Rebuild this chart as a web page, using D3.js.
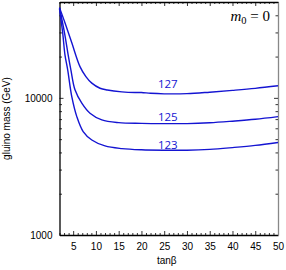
<!DOCTYPE html>
<html>
<head>
<meta charset="utf-8">
<script src="https://cdn.jsdelivr.net/npm/d3@7"></script>
<style>
  body { margin: 0; background: #fff; }
  .tick text { font-family: "Liberation Sans", Arial, sans-serif; font-size: 10px; fill: #000; }
</style>
</head>
<body>
<div id="chart"></div>
<script>
// curves: gluino mass vs tan(beta) for m_h = 127, 125, 123 GeV
var tanb127 = [2, 3.2, 4.7, 6.5, 7.8, 9.1, 10.9, 12.5, 15.7, 18.6, 20, 22, 25, 30, 35, 40, 45, 50];
var mass127 = [45500, 35300, 25200, 16900, 14300, 12800, 11750, 11400, 11050, 10930, 10950, 10800, 10700, 10730, 11000, 11340, 11730, 12240];

var tanb125 = [2, 3.1, 3.9, 4.5, 5.4, 6.9, 8.7, 11.3, 15, 20, 25, 30, 35, 40, 45, 50];
var mass125 = [45400, 29800, 20600, 16000, 11450, 9150, 7730, 6910, 6600, 6520, 6490, 6490, 6580, 6760, 6980, 7300];

var tanb123 = [2, 2.7, 3.2, 3.8, 4.7, 5.8, 7.2, 9.1, 12, 15.7, 20, 25, 30, 35, 40, 45, 50];
var mass123 = [44600, 29800, 20600, 16000, 10200, 7300, 5680, 4930, 4460, 4265, 4180, 4150, 4150, 4210, 4340, 4500, 4730];

var curveLabels = ["127", "125", "123"];
var labelTanb = [25.8, 25.8, 25.8];
var labelMass = [11830, 6830, 4245];

var xTicks = [5, 10, 15, 20, 25, 30, 35, 40, 45, 50];
var yTicks = [1000, 10000];

var W = 286, H = 270;
var pLeft = 59.5, pRight = 278, pTop = 2, pBottom = 235;
var blue = "#1414d2";

var svg = d3.select("#chart").append("svg")
    .attr("width", W)
    .attr("height", H);

var x = d3.scaleLinear().domain([2, 50]).range([pLeft, pRight]);
var y = d3.scaleLog().domain([1000, 50000]).range([pBottom, pTop]);

var xMinor = d3.range(2, 51).filter(function(d) { return d % 5 != 0; });
var yMinor = [];
[1000, 10000].forEach(function(b) {
  for (var k = 2; k <= 9; k++) if (b * k <= 50000) yMinor.push(b * k);
});

function styleAxis(g, col) {
  g.select(".domain").attr("stroke", col).attr("stroke-width", 1.3);
  g.selectAll(".tick line").attr("stroke", "#000").attr("stroke-width", 0.8);
}
function minorStyle(g) {
  g.select(".domain").remove();
  g.selectAll(".tick line").attr("stroke", "#000").attr("stroke-width", 0.8);
}

// bottom axis
svg.append("g")
    .attr("transform", "translate(0," + pBottom + ")")
    .call(d3.axisBottom(x).tickValues(xTicks).tickSizeInner(-4).tickSizeOuter(0).tickPadding(8))
    .call(styleAxis, "#000");
svg.append("g")
    .attr("transform", "translate(0," + pBottom + ")")
    .call(d3.axisBottom(x).tickValues(xMinor).tickSizeInner(-2).tickSizeOuter(0).tickFormat(""))
    .call(minorStyle);

// top axis
svg.append("g")
    .attr("transform", "translate(0," + pTop + ")")
    .call(d3.axisTop(x).tickValues(xTicks).tickSizeInner(-4).tickSizeOuter(0).tickFormat(""))
    .call(styleAxis, "#000");
svg.append("g")
    .attr("transform", "translate(0," + pTop + ")")
    .call(d3.axisTop(x).tickValues(xMinor).tickSizeInner(-2).tickSizeOuter(0).tickFormat(""))
    .call(minorStyle);

// left axis
svg.append("g")
    .attr("transform", "translate(" + pLeft + ",0)")
    .call(d3.axisLeft(y).tickValues(yTicks).tickSizeInner(-4).tickSizeOuter(0).tickPadding(7).tickFormat(d3.format("d")))
    .call(styleAxis, "#000");
svg.append("g")
    .attr("transform", "translate(" + pLeft + ",0)")
    .call(d3.axisLeft(y).tickValues(yMinor).tickSizeInner(-2.5).tickSizeOuter(0).tickFormat(""))
    .call(minorStyle);

// right axis
svg.append("g")
    .attr("transform", "translate(" + pRight + ",0)")
    .call(d3.axisRight(y).tickValues(yTicks).tickSizeInner(-4).tickSizeOuter(0).tickFormat(""))
    .call(styleAxis, "#888");
svg.append("g")
    .attr("transform", "translate(" + pRight + ",0)")
    .call(d3.axisRight(y).tickValues(yMinor).tickSizeInner(-2.5).tickSizeOuter(0).tickFormat(""))
    .call(minorStyle);

// curves
var line = d3.line()
    .x(function(d) { return x(d[0]); })
    .y(function(d) { return y(d[1]); })
    .curve(d3.curveCatmullRom.alpha(0.5));

[[tanb127, mass127], [tanb125, mass125], [tanb123, mass123]].forEach(function(s) {
  var pts = d3.zip(s[0], s[1]);
  svg.append("path")
      .datum(pts)
      .attr("fill", "none")
      .attr("stroke", blue)
      .attr("stroke-width", 1.4)
      .attr("d", line);
});

// curve labels
svg.selectAll(".clabel")
  .data(curveLabels)
  .enter().append("text")
    .attr("class", "clabel")
    .attr("x", function(d, i) { return x(labelTanb[i]); })
    .attr("y", function(d, i) { return y(labelMass[i]); })
    .attr("text-anchor", "middle")
    .attr("fill", blue)
    .style("font-family", "'Open Sans', 'DejaVu Sans', sans-serif")
    .style("font-size", "11.5px")
    .text(function(d) { return d; });

// axis titles
svg.append("text")
    .attr("x", (pLeft + pRight) / 2 - 2)
    .attr("y", 264)
    .attr("text-anchor", "middle")
    .style("font-family", "'Liberation Sans', Arial, sans-serif")
    .style("font-size", "10px")
    .text("tanβ");

svg.append("text")
    .attr("transform", "translate(10," + ((pTop + pBottom) / 2) + ") rotate(-90)")
    .attr("text-anchor", "middle")
    .style("font-family", "'Liberation Sans', Arial, sans-serif")
    .style("font-size", "10px")
    .text("gluino mass (GeV)");

// m0 = 0 annotation
var ann = svg.append("text")
    .attr("x", 270)
    .attr("y", 21)
    .attr("text-anchor", "end")
    .style("font-family", "'Liberation Serif', 'DejaVu Serif', serif")
    .style("font-size", "15px");
ann.append("tspan").style("font-style", "italic").text("m");
ann.append("tspan").attr("dy", 3).style("font-size", "10.5px").text("0");
ann.append("tspan").attr("dy", -3).text(" = 0");
</script>
</body>
</html>
